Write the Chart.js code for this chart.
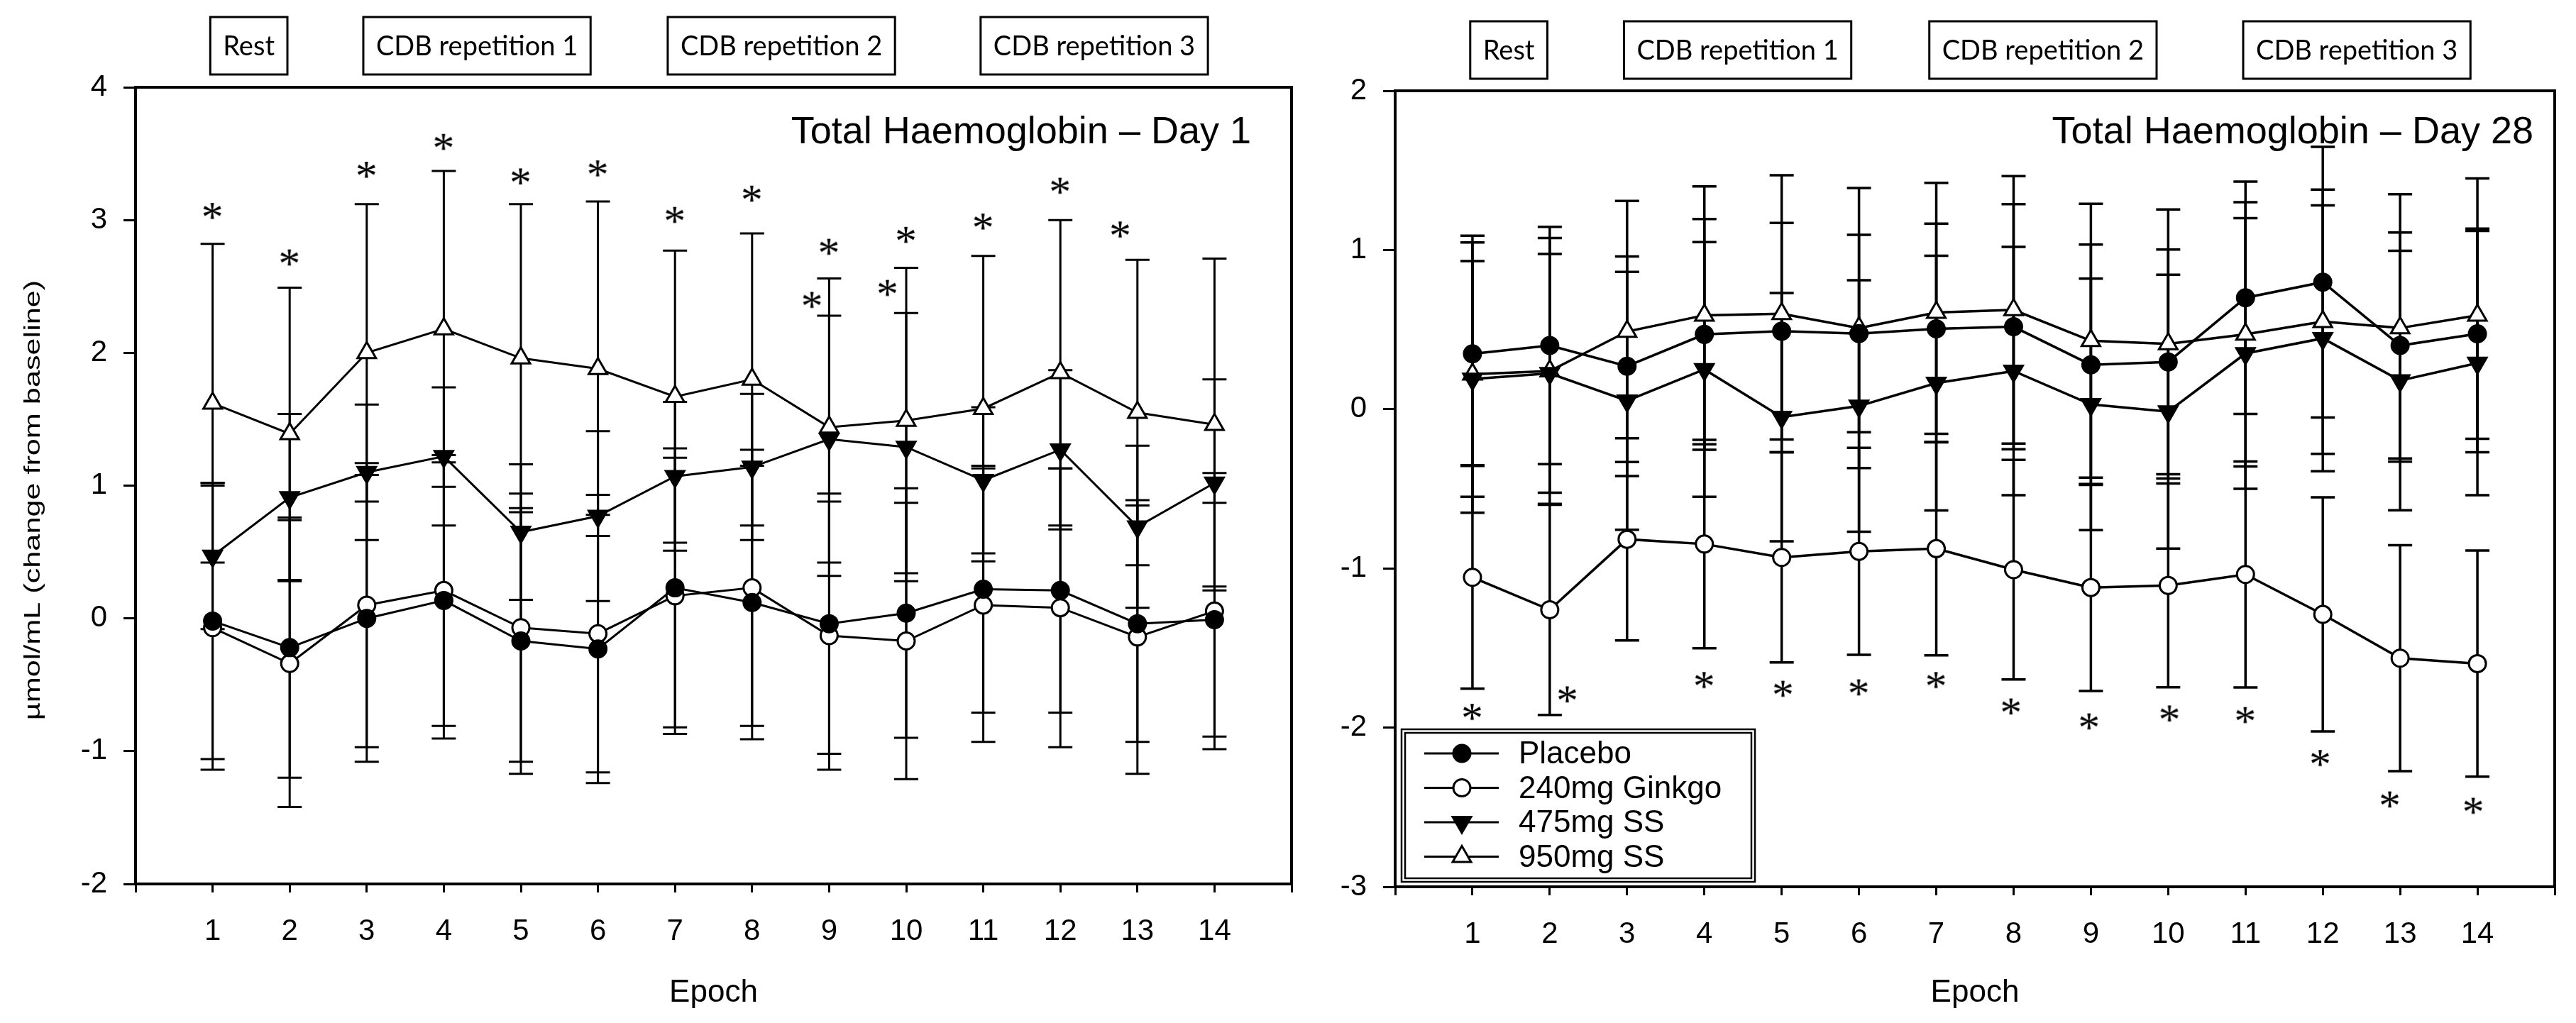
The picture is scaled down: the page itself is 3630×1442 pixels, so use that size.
<!DOCTYPE html>
<html>
<head>
<meta charset="utf-8">
<script src="https://cdn.jsdelivr.net/npm/chart.js@4.4.1/dist/chart.umd.min.js"></script>
<style>
  html, body { margin: 0; padding: 0; background: #fff; }
  body { width: 3630px; height: 1442px; position: relative; overflow: hidden; }
  canvas { position: absolute; top: 0; }
  #day1 { left: 0; }
  #day28 { left: 1850px; }
</style>
</head>
<body>
<canvas id="day1" width="1850" height="1442"></canvas>
<canvas id="day28" width="1780" height="1442"></canvas>
<script>
// epochs on the x axis
const epochs = [1, 2, 3, 4, 5, 6, 7, 8, 9, 10, 11, 12, 13, 14]
const seriesNames = ['Placebo', '240mg Ginkgo', '475mg SS', '950mg SS']
const phaseNames = ['Rest', 'CDB repetition 1', 'CDB repetition 2', 'CDB repetition 3']
const phaseCentres = [1.47, 4.43, 8.38, 12.44]

// Day 1: means and SD
const placeboDay1 = [-0.02, -0.22, 0.0, 0.135, -0.17, -0.23, 0.23, 0.12, -0.04, 0.04, 0.22, 0.21, -0.04, -0.01]
const placeboSdDay1 = [1.04, 0.98, 1.08, 1.04, 1.0, 1.01, 1.05, 1.03, 0.98, 0.94, 0.93, 0.92, 0.89, 0.88]
const ginkgoDay1 = [-0.07, -0.34, 0.1, 0.21, -0.07, -0.115, 0.17, 0.23, -0.13, -0.17, 0.1, 0.08, -0.14, 0.055]
const ginkgoSdDay1 = [1.07, 1.08, 1.07, 1.02, 1.01, 1.045, 1.04, 1.04, 1.01, 1.04, 1.03, 1.05, 1.03, 1.04]
const ss475Day1 = [0.47, 0.91, 1.1, 1.22, 0.65, 0.77, 1.07, 1.14, 1.35, 1.29, 1.04, 1.27, 0.69, 1.02]
const ss475SdDay1 = [0.55, 0.63, 0.51, 0.52, 0.51, 0.64, 0.56, 0.55, 0.93, 1.01, 0.55, 0.6, 0.61, 0.78]
const ss950Day1 = [1.62, 1.39, 2.0, 2.18, 1.96, 1.88, 1.67, 1.8, 1.44, 1.49, 1.58, 1.85, 1.55, 1.46]
const ss950SdDay1 = [1.2, 1.1, 1.12, 1.19, 1.16, 1.26, 1.1, 1.1, 1.12, 1.15, 1.15, 1.15, 1.15, 1.25]
const starsDay1 = [
    {x: 1, y: 3.07}, {x: 2, y: 2.72}, {x: 3, y: 3.38}, {x: 4, y: 3.59}, {x: 5, y: 3.33},
    {x: 6, y: 3.39}, {x: 7, y: 3.04}, {x: 8, y: 3.2}, {x: 9, y: 2.8}, {x: 8.78, y: 2.4},
    {x: 10, y: 2.89}, {x: 9.76, y: 2.49}, {x: 11, y: 2.99}, {x: 12, y: 3.26}, {x: 12.78, y: 2.93}
]

// Day 28: means and SD
const placeboDay28 = [0.348, 0.4, 0.27, 0.47, 0.49, 0.475, 0.505, 0.518, 0.279, 0.297, 0.7, 0.798, 0.4, 0.474]
const placeboSdDay28 = [0.7, 0.745, 0.69, 0.725, 0.68, 0.62, 0.66, 0.77, 0.755, 0.706, 0.73, 0.85, 0.71, 0.66]
const ginkgoDay28 = [-1.056, -1.26, -0.817, -0.847, -0.931, -0.893, -0.876, -1.008, -1.12, -1.107, -1.038, -1.289, -1.564, -1.598]
const ginkgoSdDay28 = [0.7, 0.66, 0.635, 0.655, 0.66, 0.65, 0.67, 0.69, 0.65, 0.64, 0.71, 0.735, 0.71, 0.71]
const ss475Day28 = [0.19, 0.225, 0.053, 0.25, -0.05, 0.02, 0.164, 0.24, 0.03, -0.015, 0.35, 0.445, 0.18, 0.29]
const ss475SdDay28 = [0.74, 0.75, 0.81, 0.8, 0.78, 0.79, 0.8, 0.78, 0.79, 0.86, 0.85, 0.835, 0.815, 0.83]
const ss950Day28 = [0.22, 0.24, 0.488, 0.59, 0.6, 0.51, 0.607, 0.624, 0.43, 0.41, 0.47, 0.55, 0.51, 0.59]
const ss950SdDay28 = [0.87, 0.835, 0.82, 0.81, 0.87, 0.88, 0.815, 0.84, 0.86, 0.845, 0.83, 0.83, 0.84, 0.86]
const starsDay28 = [
    {x: 1, y: -1.9}, {x: 2.23, y: -1.79}, {x: 4, y: -1.7}, {x: 5.02, y: -1.755}, {x: 6, y: -1.746},
    {x: 7, y: -1.7}, {x: 7.97, y: -1.866}, {x: 8.98, y: -1.96}, {x: 10.02, y: -1.91}, {x: 11, y: -1.92},
    {x: 11.97, y: -2.19}, {x: 12.87, y: -2.45}, {x: 13.95, y: -2.49}
]

const SANS = "'Liberation Sans', Arial, sans-serif"

function makeStar() {
    const c = document.createElement('canvas')
    c.width = 48
    c.height = 48
    const g = c.getContext('2d')
    g.font = "62px 'Liberation Serif', 'DejaVu Serif', serif"
    const m = g.measureText('*')
    const w = m.actualBoundingBoxLeft + m.actualBoundingBoxRight
    const h = m.actualBoundingBoxAscent + m.actualBoundingBoxDescent
    g.fillStyle = '#000'
    g.fillText('*', (c.width - w) / 2 + m.actualBoundingBoxLeft, (c.height - h) / 2 + m.actualBoundingBoxAscent)
    return c
}
const star = makeStar()

function serie(label, values, sd, shape, fill, lw) {
    const tri = shape !== 'circle'
    return {
        label: label,
        sd: sd,
        data: epochs.map((e, i) => ({x: e, y: values[i]})),
        borderColor: '#000',
        borderWidth: lw,
        tension: 0,
        pointStyle: tri ? 'triangle' : 'circle',
        pointRotation: shape === 'down' ? 180 : 0,
        pointRadius: tri ? 15 : 12,
        pointBackgroundColor: fill,
        pointBorderColor: '#000',
        pointBorderWidth: 3
    }
}

const errorBars = {
    id: 'errorBars',
    beforeDatasetsDraw(chart, args, o) {
        const {ctx, scales: {x, y}} = chart
        ctx.save()
        ctx.strokeStyle = '#000'
        ctx.lineWidth = o.width
        chart.data.datasets.forEach(ds => {
            if (!ds.sd) return
            ds.data.forEach((p, j) => {
                const px = x.getPixelForValue(p.x)
                const top = y.getPixelForValue(p.y + ds.sd[j])
                const bot = y.getPixelForValue(p.y - ds.sd[j])
                ctx.beginPath()
                ctx.moveTo(px, top)
                ctx.lineTo(px, bot)
                ctx.moveTo(px - 17, top)
                ctx.lineTo(px + 17, top)
                ctx.moveTo(px - 17, bot)
                ctx.lineTo(px + 17, bot)
                ctx.stroke()
            })
        })
        ctx.restore()
    }
}

const decorations = {
    id: 'decorations',
    afterDraw(chart, args, o) {
        const {ctx, chartArea: a, scales: {x}} = chart
        ctx.save()
        ctx.strokeStyle = '#000'
        ctx.fillStyle = '#000'
        // frame
        ctx.lineWidth = 4
        ctx.strokeRect(a.left, a.top, a.right - a.left, a.bottom - a.top)
        // title
        ctx.font = '54px ' + SANS
        ctx.textAlign = 'right'
        ctx.textBaseline = 'alphabetic'
        ctx.fillText(o.title, a.right - o.titleInset, o.titleBaseline)
        // phase boxes
        ctx.font = "38px Lato, 'Open Sans', sans-serif"
        ctx.textAlign = 'center'
        ctx.textBaseline = 'middle'
        ctx.lineWidth = 3
        phaseNames.forEach((name, i) => {
            const cx = x.getPixelForValue(phaseCentres[i])
            const bw = ctx.measureText(name).width + 36
            ctx.strokeRect(cx - bw / 2, o.boxTop, bw, 81)
            ctx.fillText(name, cx, o.boxTop + 42)
        })
        // y axis title
        if (o.yTitle) {
            ctx.save()
            ctx.translate(47, 705)
            ctx.rotate(-Math.PI / 2)
            ctx.scale(1.35, 1)
            ctx.font = '32px ' + SANS
            ctx.fillText(o.yTitle, 0, 0)
            ctx.restore()
        }
        ctx.restore()
    }
}

const insetLegend = {
    id: 'insetLegend',
    afterDraw(chart, args, o) {
        if (!o.show) return
        const {ctx, chartArea: a} = chart
        const x0 = a.left + 9
        const y0 = a.bottom - 7 - 215
        ctx.save()
        ctx.strokeStyle = '#000'
        ctx.fillStyle = '#fff'
        ctx.fillRect(x0, y0, 498, 215)
        ctx.lineWidth = 2.5
        ctx.strokeRect(x0, y0, 498, 215)
        ctx.strokeRect(x0 + 5, y0 + 5, 488, 205)
        chart.data.datasets.filter(d => d.sd).forEach((d, i) => {
            const cy = y0 + 34 + i * 48.5
            ctx.lineWidth = 3
            ctx.beginPath()
            ctx.moveTo(x0 + 32, cy)
            ctx.lineTo(x0 + 137, cy)
            ctx.stroke()
            ctx.fillStyle = d.pointBackgroundColor
            Chart.helpers.drawPoint(ctx, {
                pointStyle: d.pointStyle, rotation: d.pointRotation,
                radius: d.pointRadius, borderWidth: 3
            }, x0 + 85, cy)
            ctx.fillStyle = '#000'
            ctx.font = '44px ' + SANS
            ctx.textAlign = 'left'
            ctx.textBaseline = 'middle'
            ctx.fillText(d.label, x0 + 165, cy + 2)
        })
        ctx.restore()
    }
}

function makeChart(id, cfg) {
    const lw = cfg.lineWidth
    return new Chart(document.getElementById(id), {
        type: 'line',
        data: {
            datasets: [
                serie(seriesNames[0], cfg.placebo, cfg.placeboSd, 'circle', '#000', lw),
                serie(seriesNames[1], cfg.ginkgo, cfg.ginkgoSd, 'circle', '#fff', lw),
                serie(seriesNames[2], cfg.ss475, cfg.ss475Sd, 'down', '#000', lw),
                serie(seriesNames[3], cfg.ss950, cfg.ss950Sd, 'up', '#fff', lw),
                {label: '', data: cfg.stars, showLine: false, pointStyle: star, pointRadius: 10}
            ]
        },
        options: {
            responsive: false,
            animation: false,
            devicePixelRatio: 1,
            layout: {padding: {top: cfg.top, right: cfg.right, left: 0, bottom: 0}},
            plugins: {
                legend: {display: false},
                tooltip: {enabled: false},
                errorBars: {width: lw},
                decorations: {
                    title: cfg.title, titleInset: cfg.titleInset, titleBaseline: 202,
                    boxTop: cfg.boxTop, yTitle: cfg.yTitle
                },
                insetLegend: {show: cfg.legend}
            },
            scales: {
                x: {
                    type: 'linear',
                    min: 0,
                    max: 15,
                    afterFit: s => { s.height = cfg.xHeight },
                    ticks: {
                        stepSize: 1,
                        autoSkip: false,
                        padding: 30,
                        color: '#000',
                        font: {size: 42, family: SANS},
                        callback: v => (v >= 1 && v <= 14 ? v : '')
                    },
                    grid: {drawOnChartArea: false, tickLength: 12, tickWidth: 3, tickColor: '#000'},
                    border: {color: '#000', width: 4},
                    title: {
                        display: true, text: 'Epoch', color: '#000',
                        font: {size: 44, family: SANS}, padding: {top: 0, bottom: 16}
                    }
                },
                y: {
                    min: cfg.ymin,
                    max: cfg.ymax,
                    afterFit: s => { s.width = cfg.yWidth },
                    ticks: {stepSize: 1, padding: 23, color: '#000', font: {size: 42, family: SANS}},
                    grid: {drawOnChartArea: false, tickLength: 17, tickWidth: 3, tickColor: '#000'},
                    border: {color: '#000', width: 4}
                }
            }
        },
        plugins: [errorBars, decorations, insetLegend]
    })
}

makeChart('day1', {
    placebo: placeboDay1, placeboSd: placeboSdDay1,
    ginkgo: ginkgoDay1, ginkgoSd: ginkgoSdDay1,
    ss475: ss475Day1, ss475Sd: ss475SdDay1,
    ss950: ss950Day1, ss950Sd: ss950SdDay1,
    stars: starsDay1,
    ymin: -2, ymax: 4,
    top: 123, right: 18, yWidth: 191, xHeight: 196,
    lineWidth: 3,
    title: 'Total Haemoglobin \u2013 Day 1', titleInset: 57,
    boxTop: 24,
    yTitle: '\u00b5mol/mL (change from baseline)',
    legend: false
})

makeChart('day28', {
    placebo: placeboDay28, placeboSd: placeboSdDay28,
    ginkgo: ginkgoDay28, ginkgoSd: ginkgoSdDay28,
    ss475: ss475Day28, ss475Sd: ss475SdDay28,
    ss950: ss950Day28, ss950Sd: ss950SdDay28,
    stars: starsDay28,
    ymin: -3, ymax: 2,
    top: 128, right: 22, yWidth: 116, xHeight: 192,
    lineWidth: 3.5,
    title: 'Total Haemoglobin \u2013 Day 28', titleInset: 30,
    boxTop: 30,
    yTitle: null,
    legend: true
})
</script>
</body>
</html>
